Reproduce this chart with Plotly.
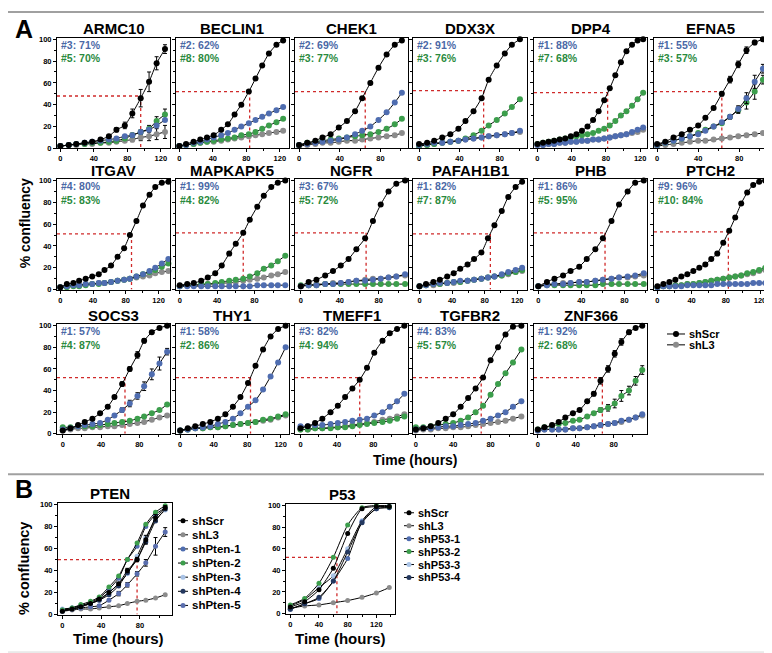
import plotly.graph_objects as go

# ---------------- data: % confluency vs time (hours) ----------------
# Panel A: shScr (black), shL3 (gray), hairpin 1 (blue), hairpin 2 (green)
armc10_t = [0, 10, 19, 29, 38, 48, 58, 67, 77, 86, 96, 106, 115, 125]
armc10_scr = [2, 3, 4, 5, 6, 8, 11, 17, 21, 32, 46, 61, 78, 91]
armc10_l3 = [2, 3, 3, 4, 4, 5, 5, 6, 7, 8, 10, 11, 13, 15]
armc10_kd1 = [2, 3, 4, 5, 6, 7, 8, 9, 11, 12, 15, 17, 21, 26]
armc10_kd2 = [2, 3, 4, 4, 5, 5, 6, 7, 9, 12, 15, 18, 25, 31]

beclin1_t = [0, 8, 17, 25, 33, 41, 50, 58, 66, 74, 83, 91, 99, 107, 116, 124]
beclin1_scr = [2, 4, 6, 8, 10, 12, 17, 22, 31, 40, 52, 64, 76, 87, 95, 99]
beclin1_l3 = [2, 3, 4, 5, 6, 6, 7, 8, 9, 10, 11, 12, 13, 14, 15, 16]
beclin1_kd1 = [2, 3, 5, 6, 8, 10, 12, 14, 17, 20, 23, 26, 29, 32, 35, 38]
beclin1_kd2 = [2, 3, 4, 5, 6, 7, 8, 9, 10, 12, 13, 15, 18, 21, 24, 27]

chek1_t = [0, 8, 16, 23, 31, 39, 47, 55, 62, 70, 78, 86, 94, 101]
chek1_scr = [3, 5, 7, 10, 13, 19, 25, 34, 46, 60, 74, 86, 95, 99]
chek1_l3 = [2, 3, 4, 5, 5, 6, 7, 7, 8, 9, 10, 11, 12, 14]
chek1_kd1 = [3, 4, 5, 6, 7, 8, 10, 13, 16, 20, 26, 33, 42, 51]
chek1_kd2 = [3, 5, 6, 7, 8, 9, 10, 11, 12, 13, 15, 18, 22, 27]

ddx3x_t = [0, 8, 15, 23, 31, 39, 46, 54, 62, 69, 77, 85, 92, 100]
ddx3x_scr = [4, 5, 7, 10, 13, 18, 25, 34, 46, 63, 76, 87, 95, 100]
ddx3x_l3 = [2, 3, 4, 5, 6, 7, 8, 9, 10, 11, 12, 13, 14, 15]
ddx3x_kd1 = [3, 4, 5, 5, 6, 7, 8, 9, 10, 11, 12, 13, 14, 16]
ddx3x_kd2 = [2, 3, 4, 5, 6, 7, 9, 12, 16, 21, 26, 32, 38, 45]

dpp4_t = [0, 6.5, 13, 19.5, 26, 32.5, 39, 45.5, 52, 58.5, 65, 71.5, 78, 84.5, 91, 97.5, 104, 110.5, 117, 123.5]
dpp4_scr = [4, 5, 6, 7, 8, 9, 11, 13, 16, 20, 26, 34, 44, 55, 67, 79, 89, 95, 99, 100]
dpp4_l3 = [3, 3, 4, 4, 5, 5, 6, 6, 7, 7, 8, 8, 9, 10, 11, 12, 13, 14, 15, 17]
dpp4_kd1 = [3, 3, 4, 4, 5, 5, 6, 6, 7, 7, 8, 8, 9, 10, 11, 12, 13, 15, 17, 19]
dpp4_kd2 = [4, 5, 6, 7, 8, 9, 10, 11, 12, 13, 14, 16, 18, 21, 25, 30, 34, 39, 45, 51]

efna5_t = [0, 8, 16, 24, 32, 40, 47, 55, 63, 71, 79, 87, 95, 103]
efna5_scr = [4, 6, 10, 13, 17, 21, 28, 37, 50, 63, 77, 90, 97, 100]
efna5_l3 = [2, 3, 4, 5, 6, 7, 7, 8, 9, 10, 11, 12, 13, 14]
efna5_kd1 = [3, 5, 7, 9, 11, 13, 16, 20, 24, 29, 36, 46, 61, 73]
efna5_kd2 = [3, 5, 7, 9, 11, 14, 17, 20, 23, 29, 35, 42, 52, 63]

itgav_t = [0, 8, 16, 23, 31, 39, 47, 54, 62, 70, 78, 85, 93, 101, 109, 116, 124, 132]
itgav_scr = [2, 5, 6, 8, 10, 12, 14, 18, 22, 30, 38, 50, 63, 77, 87, 94, 98, 99]
itgav_l3 = [2, 3, 4, 4, 5, 5, 6, 6, 7, 8, 9, 10, 11, 12, 13, 15, 16, 17]
itgav_kd1 = [2, 3, 4, 4, 5, 5, 6, 6, 7, 8, 9, 10, 12, 14, 17, 20, 24, 28]
itgav_kd2 = [2, 2, 3, 3, 4, 5, 5, 6, 7, 8, 9, 10, 12, 14, 16, 18, 21, 24]

mapkapk5_t = [0, 8, 15, 23, 30, 38, 45, 53, 60, 68, 75, 83, 90, 98, 105, 113]
mapkapk5_scr = [4, 5, 6, 8, 11, 15, 22, 33, 42, 52, 64, 76, 86, 94, 98, 100]
mapkapk5_l3 = [3, 4, 4, 4, 5, 5, 6, 6, 7, 8, 9, 10, 11, 13, 14, 16]
mapkapk5_kd1 = [3, 3, 3, 3, 3, 3, 3, 3, 3, 3, 3, 4, 4, 4, 4, 4]
mapkapk5_kd2 = [3, 4, 4, 5, 5, 6, 7, 8, 9, 10, 12, 15, 19, 22, 26, 31]

ngfr_t = [0, 8, 16, 25, 33, 41, 49, 57, 66, 74, 82, 90, 98, 107]
ngfr_scr = [3, 7, 9, 13, 17, 22, 28, 37, 47, 63, 78, 90, 97, 100]
ngfr_l3 = [3, 4, 5, 5, 6, 6, 7, 8, 9, 10, 10, 11, 12, 13]
ngfr_kd1 = [3, 4, 4, 5, 5, 6, 7, 8, 8, 9, 10, 11, 12, 14]
ngfr_kd2 = [4, 4, 4, 5, 5, 5, 5, 5, 5, 5, 5, 5, 5, 5]

pafah1b1_t = [0, 8, 17, 25, 34, 42, 50, 59, 67, 76, 84, 92, 101, 109, 118, 126]
pafah1b1_scr = [3, 5, 7, 9, 12, 15, 19, 23, 28, 34, 47, 59, 72, 85, 94, 99]
pafah1b1_l3 = [3, 4, 4, 5, 6, 6, 7, 8, 9, 10, 11, 12, 13, 14, 16, 17]
pafah1b1_kd1 = [3, 4, 5, 6, 6, 7, 8, 8, 9, 10, 11, 12, 14, 16, 18, 20]
pafah1b1_kd2 = [3, 4, 5, 5, 6, 7, 7, 8, 9, 10, 11, 12, 13, 15, 16, 18]

phb_t = [0, 8, 15, 23, 30, 38, 45, 53, 60, 68, 75, 83, 90, 98]
phb_scr = [3, 7, 10, 13, 17, 21, 28, 37, 47, 63, 78, 90, 98, 100]
phb_l3 = [3, 5, 5, 6, 6, 7, 7, 8, 9, 10, 11, 11, 12, 13]
phb_kd1 = [3, 4, 5, 5, 6, 7, 7, 8, 9, 10, 11, 12, 13, 15]
phb_kd2 = [3, 4, 4, 4, 4, 4, 4, 4, 5, 5, 5, 5, 5, 5]

ptch2_t = [0, 7, 14, 21, 28, 35, 42, 49, 56, 63, 70, 77, 84, 91, 98, 105, 112, 119, 126]
ptch2_scr = [3, 5, 7, 9, 12, 14, 17, 20, 23, 28, 33, 43, 54, 66, 79, 89, 96, 99, 100]
ptch2_l3 = [2, 3, 3, 4, 4, 5, 5, 6, 7, 8, 9, 10, 11, 12, 13, 14, 15, 17, 18]
ptch2_kd1 = [2, 3, 3, 3, 3, 4, 4, 4, 4, 4, 5, 5, 5, 5, 5, 5, 6, 6, 6]
ptch2_kd2 = [2, 3, 3, 4, 4, 5, 5, 6, 7, 8, 9, 10, 11, 12, 13, 15, 16, 18, 20]

socs3_t = [0, 8, 16, 23, 31, 39, 47, 54, 62, 70, 78, 85, 93, 101, 109]
socs3_scr = [3, 5, 8, 11, 14, 19, 25, 34, 46, 60, 73, 86, 94, 98, 100]
socs3_l3 = [3, 4, 5, 5, 6, 6, 7, 7, 8, 9, 10, 11, 13, 15, 17]
socs3_kd1 = [4, 5, 7, 8, 9, 10, 13, 17, 22, 28, 35, 44, 55, 65, 76]
socs3_kd2 = [6, 6, 7, 7, 7, 8, 9, 10, 11, 12, 14, 16, 19, 22, 27]

thy1_t = [0, 9, 18, 27, 36, 45, 54, 63, 72, 81, 90, 99, 108, 117, 126]
thy1_scr = [3, 5, 7, 9, 11, 14, 18, 25, 34, 47, 63, 78, 90, 97, 100]
thy1_l3 = [3, 4, 5, 5, 6, 6, 7, 8, 9, 10, 11, 12, 13, 15, 17]
thy1_kd1 = [3, 4, 5, 6, 7, 9, 11, 14, 19, 25, 31, 41, 53, 66, 80]
thy1_kd2 = [3, 4, 5, 5, 6, 6, 7, 8, 9, 10, 11, 13, 14, 16, 18]

tmeff1_t = [0, 8, 16, 24, 33, 41, 49, 57, 65, 73, 81, 90, 98, 106, 114]
tmeff1_scr = [5, 7, 10, 14, 20, 26, 34, 42, 50, 61, 75, 86, 93, 97, 100]
tmeff1_l3 = [4, 4, 5, 5, 6, 6, 7, 8, 9, 10, 11, 13, 14, 16, 18]
tmeff1_kd1 = [7, 7, 8, 8, 9, 10, 11, 12, 13, 14, 17, 20, 25, 30, 37]
tmeff1_kd2 = [4, 4, 5, 5, 5, 6, 6, 7, 8, 9, 10, 11, 12, 14, 16]

tgfbr2_t = [0, 8, 16, 24, 32, 40, 48, 56, 64, 72, 80, 88, 96, 104, 113]
tgfbr2_scr = [4, 5, 7, 10, 14, 18, 25, 33, 42, 52, 68, 80, 92, 99, 100]
tgfbr2_l3 = [3, 4, 4, 5, 5, 6, 6, 7, 8, 9, 10, 11, 12, 14, 16]
tgfbr2_kd1 = [4, 5, 5, 6, 7, 7, 8, 9, 10, 12, 14, 17, 20, 25, 30]
tgfbr2_kd2 = [6, 6, 7, 8, 9, 10, 12, 15, 20, 26, 36, 46, 56, 66, 78]

znf366_t = [0, 7, 15, 22, 29, 37, 44, 52, 59, 66, 74, 81, 88, 96, 103, 110]
znf366_scr = [4, 6, 8, 11, 15, 19, 22, 30, 37, 49, 60, 74, 85, 94, 98, 100]
znf366_l3 = [3, 4, 4, 4, 4, 5, 5, 6, 7, 8, 9, 10, 11, 13, 15, 17]
znf366_kd1 = [3, 4, 4, 4, 4, 5, 5, 6, 7, 8, 9, 10, 12, 13, 15, 18]
znf366_kd2 = [4, 6, 7, 9, 10, 12, 13, 16, 19, 22, 24, 28, 35, 40, 49, 59]

# error bars (SD) where they are visible
armc10_scr_err = [0, 0, 0, 0, 0, 0, 1, 2, 3, 4, 8, 9, 6, 4]
armc10_kd2_err = [0, 0, 0, 0, 0, 0, 0, 1, 1, 2, 2, 3, 4, 5]
armc10_l3_err = [0, 0, 0, 0, 0, 0, 0, 1, 1, 2, 3, 4, 5, 6]
efna5_scr_err = [0, 0, 0, 0, 0, 0, 0, 1, 2, 3, 3, 3, 2, 2]
efna5_kd1_err = [0, 0, 0, 0, 0, 0, 0, 1, 1, 2, 3, 5, 6, 4]
efna5_kd2_err = [0, 0, 0, 0, 0, 0, 0, 1, 1, 2, 3, 6, 7, 4]
socs3_scr_err = [0, 0, 0, 0, 0, 0, 1, 1, 2, 2, 3, 2, 1, 1, 1]
socs3_kd1_err = [0, 0, 0, 0, 0, 0, 1, 1, 2, 3, 3, 4, 5, 6, 3]
znf366_scr_err = [0, 0, 0, 0, 0, 0, 0, 1, 2, 3, 3, 3, 3, 2, 1, 1]
znf366_kd2_err = [0, 0, 0, 0, 0, 0, 0, 1, 1, 2, 3, 4, 5, 4, 4, 4]

# knockdown efficiencies printed in each panel (blue hairpin, green hairpin)
kd_labels = {
    "ARMC10": ("#3: 71%", "#5: 70%"), "BECLIN1": ("#2: 62%", "#8: 80%"),
    "CHEK1": ("#2: 69%", "#3: 77%"), "DDX3X": ("#2: 91%", "#3: 76%"),
    "DPP4": ("#1: 88%", "#7: 68%"), "EFNA5": ("#1: 55%", "#3: 57%"),
    "ITGAV": ("#4: 80%", "#5: 83%"), "MAPKAPK5": ("#1: 99%", "#4: 82%"),
    "NGFR": ("#3: 67%", "#5: 72%"), "PAFAH1B1": ("#1: 82%", "#7: 87%"),
    "PHB": ("#1: 86%", "#5: 95%"), "PTCH2": ("#9: 96%", "#10: 84%"),
    "SOCS3": ("#1: 57%", "#4: 87%"), "THY1": ("#1: 58%", "#2: 86%"),
    "TMEFF1": ("#3: 82%", "#4: 94%"), "TGFBR2": ("#4: 83%", "#5: 57%"),
    "ZNF366": ("#1: 92%", "#2: 68%"),
}
# half-confluence of shScr (hours, %), drawn as red dotted guides
half_max = {
    "ARMC10": (96, 48), "BECLIN1": (84, 52), "CHEK1": (65, 52), "DDX3X": (64, 53),
    "DPP4": (82, 51), "EFNA5": (63, 52), "ITGAV": (87, 51), "MAPKAPK5": (68, 52),
    "NGFR": (67, 52), "PAFAH1B1": (87, 51), "PHB": (62, 52), "PTCH2": (83, 53),
    "SOCS3": (65, 52), "THY1": (84, 52), "TMEFF1": (65, 52), "TGFBR2": (70, 52),
    "ZNF366": (68, 52),
}

# Panel B
pten_t = [0, 10, 19, 29, 38, 48, 58, 67, 77, 86, 96, 106]
pten_scr = [3, 5, 7, 10, 14, 20, 28, 40, 50, 68, 88, 97]
pten_l3 = [3, 4, 5, 5, 6, 7, 8, 10, 12, 13, 15, 18]
pten_1 = [4, 6, 8, 11, 15, 23, 33, 50, 62, 80, 91, 97]
pten_2 = [4, 6, 9, 12, 16, 25, 35, 50, 65, 82, 93, 99]
pten_3 = [5, 6, 8, 10, 13, 20, 28, 37, 53, 70, 86, 95]
pten_4 = [3, 5, 7, 10, 13, 18, 26, 38, 50, 66, 85, 96]
pten_5 = [4, 5, 6, 7, 8, 13, 19, 27, 37, 47, 62, 75]
pten_5_err = [0, 0, 0, 0, 1, 1, 2, 2, 2, 3, 8, 4]
pten_scr_err = [0, 0, 0, 0, 0, 1, 1, 2, 2, 4, 3, 2]
pten_half = (77, 50)

p53_t = [0, 20, 40, 60, 80, 100, 120, 138]
p53_scr = [6, 11, 22, 42, 74, 97, 99, 99]
p53_l3 = [5, 7, 8, 10, 12, 15, 19, 24]
p53_1 = [4, 9, 14, 30, 51, 85, 97, 98]
p53_2 = [8, 14, 28, 52, 82, 98, 100, 99]
p53_3 = [7, 13, 24, 35, 60, 86, 99, 100]
p53_4 = [4, 9, 15, 30, 57, 84, 97, 98]
p53_half = (65, 52)

# ---------------- layout helpers ----------------
W, H = 772, 653
FONT = "Liberation Sans, Arial, sans-serif"
BLACK, GRAY, BLUE, GREEN = "#000000", "#8c8c8c", "#4f6db0", "#3c9e4c"
BLUE_TXT, GREEN_TXT = "#4a68a6", "#2a8a3e"
LIGHT_BLUE, NAVY, MID_BLUE = "#a9c3e6", "#24385f", "#5a6eae"
RED = "#d02a2a"

cols = [(49, 162), (168, 281), (287, 400), (405, 519), (526, 639), (646, 758)]
rows = [(27, 139), (170, 282), (317, 428)]

# name, arrays, x range, grid position
panels_a = [
    ("ARMC10", armc10_t, armc10_scr, armc10_l3, armc10_kd1, armc10_kd2, [-4, 131], 0, 0),
    ("BECLIN1", beclin1_t, beclin1_scr, beclin1_l3, beclin1_kd1, beclin1_kd2, [-4, 131], 0, 1),
    ("CHEK1", chek1_t, chek1_scr, chek1_l3, chek1_kd1, chek1_kd2, [-4, 107], 0, 2),
    ("DDX3X", ddx3x_t, ddx3x_scr, ddx3x_l3, ddx3x_kd1, ddx3x_kd2, [-6, 107], 0, 3),
    ("DPP4", dpp4_t, dpp4_scr, dpp4_l3, dpp4_kd1, dpp4_kd2, [-4, 128], 0, 4),
    ("EFNA5", efna5_t, efna5_scr, efna5_l3, efna5_kd1, efna5_kd2, [-3, 106], 0, 5),
    ("ITGAV", itgav_t, itgav_scr, itgav_l3, itgav_kd1, itgav_kd2, [-4, 134], 1, 0),
    ("MAPKAPK5", mapkapk5_t, mapkapk5_scr, mapkapk5_l3, mapkapk5_kd1, mapkapk5_kd2, [-4, 117], 1, 1),
    ("NGFR", ngfr_t, ngfr_scr, ngfr_l3, ngfr_kd1, ngfr_kd2, [-6, 110], 1, 2),
    ("PAFAH1B1", pafah1b1_t, pafah1b1_scr, pafah1b1_l3, pafah1b1_kd1, pafah1b1_kd2, [-8, 132], 1, 3),
    ("PHB", phb_t, phb_scr, phb_l3, phb_kd1, phb_kd2, [-4, 101], 1, 4),
    ("PTCH2", ptch2_t, ptch2_scr, ptch2_l3, ptch2_kd1, ptch2_kd2, [-4, 127], 1, 5),
    ("SOCS3", socs3_t, socs3_scr, socs3_l3, socs3_kd1, socs3_kd2, [-6, 112], 2, 0),
    ("THY1", thy1_t, thy1_scr, thy1_l3, thy1_kd1, thy1_kd2, [-5, 130], 2, 1),
    ("TMEFF1", tmeff1_t, tmeff1_scr, tmeff1_l3, tmeff1_kd1, tmeff1_kd2, [-6, 118], 2, 2),
    ("TGFBR2", tgfbr2_t, tgfbr2_scr, tgfbr2_l3, tgfbr2_kd1, tgfbr2_kd2, [-3, 119], 2, 3),
    ("ZNF366", znf366_t, znf366_scr, znf366_l3, znf366_kd1, znf366_kd2, [-4, 115], 2, 4),
]

errs = {
    ("ARMC10", "scr"): armc10_scr_err, ("ARMC10", "kd2"): armc10_kd2_err,
    ("ARMC10", "l3"): armc10_l3_err,
    ("EFNA5", "scr"): efna5_scr_err, ("EFNA5", "kd1"): efna5_kd1_err,
    ("EFNA5", "kd2"): efna5_kd2_err,
    ("SOCS3", "scr"): socs3_scr_err, ("SOCS3", "kd1"): socs3_kd1_err,
    ("ZNF366", "scr"): znf366_scr_err, ("ZNF366", "kd2"): znf366_kd2_err,
}

fig = go.Figure()
shapes, annots = [], []


def px(x):
    return x / W


def py(y):
    return 1 - y / H


def add_axes(k, box, xr, show_ylab=False):
    x0, x1, y0, y1 = box
    xn = "xaxis" if k == 1 else f"xaxis{k}"
    yn = "yaxis" if k == 1 else f"yaxis{k}"
    xs = "x" if k == 1 else f"x{k}"
    ys = "y" if k == 1 else f"y{k}"
    common = dict(showline=True, mirror=True, linecolor="#000", linewidth=1,
                  ticks="outside", ticklen=3, tickcolor="#000", showgrid=False,
                  zeroline=False, tick0=0,
                  tickfont=dict(family=FONT, size=7.5, color="#000", weight="bold"))
    fig.update_layout({
        xn: dict(domain=[px(x0), px(x1)], range=xr, anchor=ys, dtick=40,
                 minor=dict(dtick=20, ticks="outside", ticklen=2, tickcolor="#000"),
                 **common),
        yn: dict(domain=[py(y1), py(y0)], range=[0, 101.5], anchor=xs, dtick=20,
                 showticklabels=show_ylab,
                 minor=dict(dtick=10, ticks="outside", ticklen=2, tickcolor="#000"),
                 **common),
    })
    return xs, ys


def add_series(xs, ys, t, v, color, size, err=None):
    fig.add_trace(go.Scatter(
        x=t, y=v, xaxis=xs, yaxis=ys, mode="lines+markers", showlegend=False,
        cliponaxis=False,
        line=dict(color="#000", width=1, shape="spline", smoothing=0.6),
        marker=dict(color=color, size=size, line=dict(width=0)),
        error_y=dict(type="data", array=err, color="#000", thickness=1, width=2,
                     visible=err is not None),
    ))


def add_half(xs, ys, xr, half):
    th, yh = half
    line = dict(color=RED, width=1.3, dash="dot")
    shapes.append(dict(type="line", xref=xs, yref=ys, x0=xr[0], x1=th, y0=yh, y1=yh,
                       line=line, layer="below"))
    shapes.append(dict(type="line", xref=xs, yref=ys, x0=th, x1=th, y0=yh, y1=0,
                       line=line, layer="below"))


def text(x, y, s, size, color="#000", xanchor="center", yanchor="middle", angle=0):
    annots.append(dict(x=px(x), y=py(y), xref="paper", yref="paper", text=s,
                       showarrow=False, xanchor=xanchor, yanchor=yanchor, textangle=angle,
                       borderpad=0, font=dict(family=FONT, size=size, color=color)))


def legend_row(cx, cy, color, label, msize, fsize, half_len):
    shapes.append(dict(type="line", xref="paper", yref="paper", x0=px(cx - half_len),
                       x1=px(cx + half_len), y0=py(cy), y1=py(cy),
                       line=dict(color="#000", width=1)))
    r = msize / 2
    shapes.append(dict(type="circle", xref="paper", yref="paper", xsizemode="pixel",
                       ysizemode="pixel", xanchor=px(cx), yanchor=py(cy),
                       x0=-r, x1=r, y0=-r, y1=r, fillcolor=color, line=dict(width=0)))
    text(cx + half_len + 3, cy, f"<b>{label}</b>", fsize, xanchor="left")


# ---------------- panel A ----------------
k = 0
for name, t, scr, l3, kd1, kd2, xr, r, c in panels_a:
    k += 1
    x0, x1 = cols[c]
    y0, y1 = rows[r]
    xs, ys = add_axes(k, (x0, x1, y0, y1), xr, show_ylab=(c == 0))
    add_half(xs, ys, xr, half_max[name])
    add_series(xs, ys, t, l3, GRAY, 6, errs.get((name, "l3")))
    add_series(xs, ys, t, kd2, GREEN, 6, errs.get((name, "kd2")))
    add_series(xs, ys, t, kd1, BLUE, 6, errs.get((name, "kd1")))
    add_series(xs, ys, t, scr, BLACK, 6, errs.get((name, "scr")))
    text((x0 + x1) / 2, y0 - 9, f"<b>{name}</b>", 15)
    lab1, lab2 = kd_labels[name]
    text(x0 + 3, y0 + 7, f"<b>{lab1}</b>", 10.5, BLUE_TXT, xanchor="left")
    text(x0 + 3, y0 + 21, f"<b>{lab2}</b>", 10.5, GREEN_TXT, xanchor="left")

legend_row(668, 327, BLACK, "shScr", 6, 11, 9)
legend_row(668, 338, GRAY, "shL3", 6, 11, 9)

text(16, 18, "<b>A</b>", 25)
text(17, 215, "<b>% confluency</b>", 14, angle=-90)
text(407, 455, "<b>Time (hours)</b>", 14)

# ---------------- panel B ----------------
k += 1
pten_x = [-4.5, 113]
xs, ys = add_axes(k, (50, 164, 498, 611), pten_x, show_ylab=True)
add_half(xs, ys, pten_x, pten_half)
pten_series = [
    (pten_l3, GRAY, None), (pten_5, MID_BLUE, pten_5_err),
    (pten_3, LIGHT_BLUE, None), (pten_4, NAVY, None),
    (pten_1, BLUE, None), (pten_2, GREEN, None),
    (pten_scr, BLACK, pten_scr_err),
]
for v, col, err in pten_series:
    add_series(xs, ys, pten_t, v, col, 5, err)

k += 1
p53_x = [-6, 146]
xs, ys = add_axes(k, (278, 387, 499, 610), p53_x, show_ylab=True)
add_half(xs, ys, p53_x, p53_half)
p53_series = [
    (p53_l3, GRAY), (p53_3, LIGHT_BLUE), (p53_1, BLUE), (p53_4, NAVY),
    (p53_2, GREEN), (p53_scr, BLACK),
]
for v, col in p53_series:
    add_series(xs, ys, p53_t, v, col, 5)

pten_legend = [("shScr", BLACK), ("shL3", GRAY), ("shPten-1", BLUE), ("shPten-2", GREEN),
               ("shPten-3", LIGHT_BLUE), ("shPten-4", NAVY), ("shPten-5", MID_BLUE)]
for i, (lab, col) in enumerate(pten_legend):
    legend_row(175, 516 + 14.3 * i, col, lab, 5, 11.5, 5)

p53_legend = [("shScr", BLACK), ("shL3", GRAY), ("shP53-1", BLUE), ("shP53-2", GREEN),
              ("shP53-3", LIGHT_BLUE), ("shP53-4", NAVY)]
for i, (lab, col) in enumerate(p53_legend):
    legend_row(401, 508 + 13.1 * i, col, lab, 5, 11, 5)

text(16, 484, "<b>B</b>", 25)
text(102, 488, "<b>PTEN</b>", 15)
text(334, 489, "<b>P53</b>", 15)
text(16, 565, "<b>% confluency</b>", 14.5, angle=-90)
text(110, 635, "<b>Time (hours)</b>", 15)
text(332, 635, "<b>Time (hours)</b>", 15)

# section dividers
for yy, col, wd in [(1, "#a0a0a0", 2), (469, "#a0a0a0", 2), (649, "#d8d8d8", 1)]:
    shapes.append(dict(type="line", xref="paper", yref="paper", x0=0, x1=1,
                       y0=py(yy), y1=py(yy), line=dict(color=col, width=wd)))

fig.update_layout(
    width=W, height=H, margin=dict(l=0, r=0, t=0, b=0),
    paper_bgcolor="white", plot_bgcolor="white",
    shapes=shapes, annotations=annots, showlegend=False,
    font=dict(family=FONT),
)

fig.write_html("out.html")
